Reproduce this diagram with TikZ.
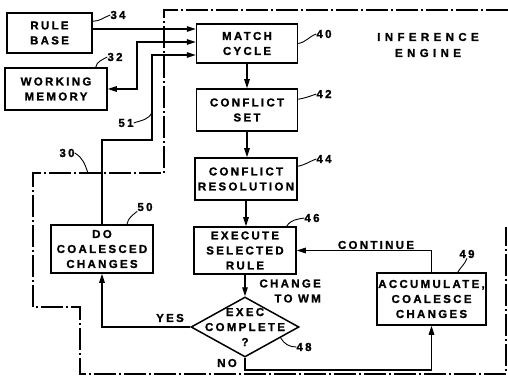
\documentclass[tikz,border=0pt]{standalone}
\usepackage{fontspec}
\newfontfamily\lblfont[LetterSpace=20,FakeBold=1.2]{Liberation Sans}
\newfontfamily\engfont[LetterSpace=38,FakeBold=1.2]{Liberation Sans}
\usetikzlibrary{arrows.meta,calc,shapes.geometric}
\begin{document}
\begin{tikzpicture}[x=1pt,y=-1pt,
 txt/.style={font=\lblfont\bfseries\fontsize{11.5}{15}\selectfont, inner sep=0, align=center},
 box/.style={txt, draw, line width=1.5pt},
 tip/.tip={Triangle[length=9pt,width=5.5pt]},
 arr/.style={line width=1.4pt, -tip},
 link/.style={line width=1.4pt},
 leader/.style={line width=0.9pt},
 bound/.style={line width=1.1pt, dash pattern=on 22pt off 3pt on 2pt off 3pt}]
\useasboundingbox (0,0) rectangle (508,379);
% boxes
\node[box, minimum width=85, minimum height=40] (rb) at (49.5,33) {RULE\\BASE};
\node[box, minimum width=102, minimum height=42] (wm) at (56,89) {WORKING\\MEMORY};
\node[box, minimum width=101, minimum height=39] (mc) at (247,43.5) {MATCH\\CYCLE};
\node[box, minimum width=101, minimum height=42] (cs) at (247,110) {CONFLICT\\SET};
\node[box, minimum width=102, minimum height=42] (cr) at (246,179) {CONFLICT\\RESOLUTION};
\node[box, minimum width=102, minimum height=47] (ex) at (245,250.5) {EXECUTE\\SELECTED\\RULE};
\node[box, minimum width=102, minimum height=48] (dc) at (102,249) {DO\\COALESCED\\CHANGES};
\node[box, minimum width=109, minimum height=52] (ac) at (431.5,299) {ACCUMULATE,\\COALESCE\\CHANGES};
\node[diamond, draw, line width=1.5pt, minimum width=108, minimum height=60, inner sep=0, shape aspect=1.8] (dm) at (245,327) {};
\node[txt] (dmt) at (dm.center) {EXEC\\COMPLETE\\?};
% labels
\node[txt] (yes) at (170,318) {YES};
\node[txt] (no) at (227,363) {NO};
\node[txt] (cont) at (376,245) {CONTINUE};
\node[txt, align=right, anchor=east] (chg) at (321,291) {CHANGE\\TO WM};
\node[font=\engfont\bfseries\fontsize{11.5}{16}\selectfont, align=center, inner sep=0] (ie) at (428,45) {INFERENCE\\ENGINE};
% reference numbers
\node[txt] (n34) at (118,15) {34};
\node[txt] (n32) at (115,57) {32};
\node[txt] (n40) at (324,34) {40};
\node[txt] (n42) at (324,94) {42};
\node[txt] (n44) at (324,159) {44};
\node[txt] (n46) at (312,218) {46};
\node[txt] (n48) at (304,347) {48};
\node[txt] (n49) at (467,254) {49};
\node[txt] (n50) at (145,207) {50};
\node[txt] (n51) at (126,123) {51};
\node[txt] (n30) at (67,153) {30};
% connectors
\coordinate (m1) at ($(mc.west)+(0,-14.5)$);
\coordinate (m2) at ($(mc.west)+(0,-1.5)$);
\coordinate (m3) at ($(mc.west)+(0,11.5)$);
\draw[arr] (rb.east |- m1) -- (m1);
\coordinate (wj) at (137,0);
\draw[link, tip-tip] (wm.east) -- (wm.east -| wj) -- (wj |- m2) -- (m2);
\coordinate (k51) at (152,140);
\draw[arr] (dc.north) |- (k51) -- (k51 |- m3) -- (m3);
\draw[arr] (mc.south) -- (mc.south |- cs.north);
\draw[arr] (cs.south) -- (cs.south |- cr.north);
\draw[arr] (cr.south) -- (cr.south |- ex.north);
\draw[arr] (ex.south) -- (ex.south |- dm.north);
\draw[arr] (dm.west) -| (dc.south);
\coordinate (nob) at (0,370);
\draw[arr] (dm.south) -- (dm.south |- nob) -| (ac.south);
\draw[arr] (ac.north) |- (ex.east);
% boundary
\draw[bound] (508,10) -- (164,10) -- (164,173) -- (33,173) -- (33,307) -- (80,307) -- (80,374) -- (506,374) -- (506,227);
% leaders
\coordinate (p51) at (152,112);
\coordinate (p30) at (88,173);
\draw[leader] ($(rb.north east)+(0,9)$) to[out=0,in=200] (n34.west);
\draw[leader] ($(wm.north east)+(-12,0)$) to[out=80,in=210] (n32.west);
\draw[leader] (mc.east) to[out=10,in=200] (n40.west);
\draw[leader] ($(cs.north east)+(0,11)$) to[out=10,in=200] (n42.west);
\draw[leader] ($(cr.north east)+(0,9)$) to[out=10,in=200] (n44.west);
\draw[leader] ($(ex.north east)+(-10,0)$) to[out=60,in=190] (n46.west);
\draw[leader] ($(dm.east)!0.35!(dm.south)$) to[out=-60,in=180] (n48.west);
\draw[leader] ($(ac.north east)+(-29,0)$) to[out=60,in=250] (n49.south);
\draw[leader] ($(dc.north)+(25,0)$) to[out=80,in=220] (n50.south west);
\draw[leader] (n51.east) to[out=20,in=250] (p51);
\draw[leader] (n30.east) to[out=-30,in=110] (p30);
\end{tikzpicture}
\end{document}
